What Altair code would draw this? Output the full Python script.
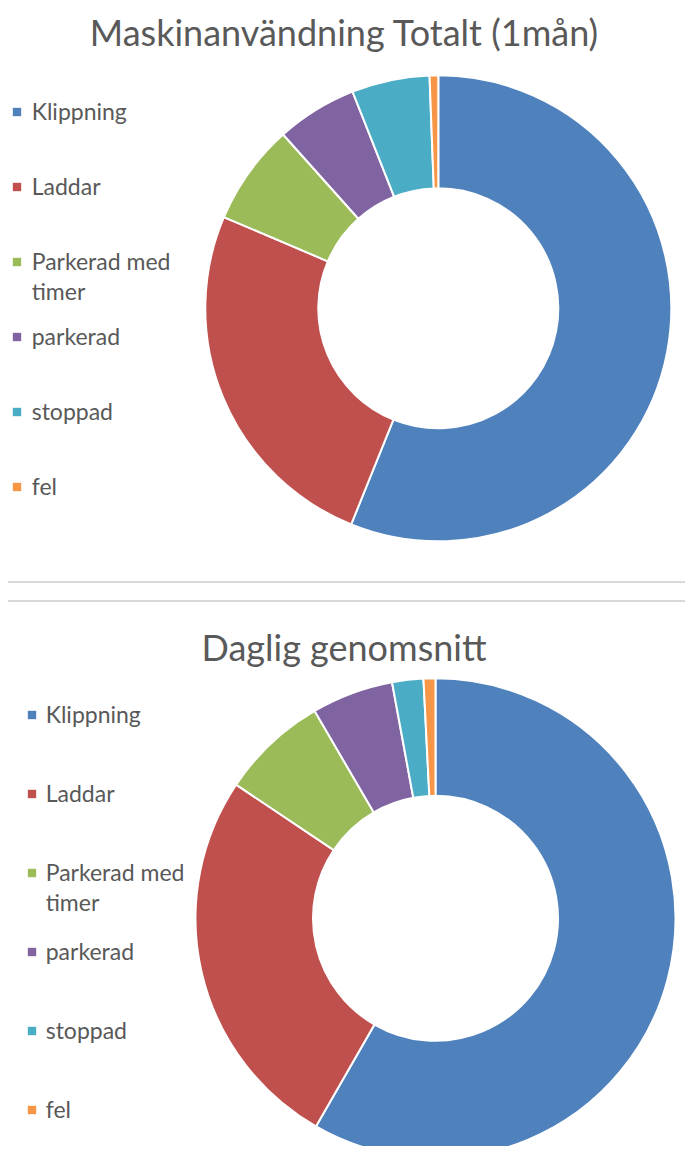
import altair as alt
import pandas as pd

categories = ["Klippning", "Laddar", "Parkerad med timer", "parkerad", "stoppad", "fel"]
legend_labels = ["Klippning", "Laddar", "Parkerad med\ntimer", "parkerad", "stoppad", "fel"]
colors = ["#4F81BD", "#C0504D", "#9BBB59", "#8064A2", "#4BACC6", "#F79646"]
total_values = [56.1, 25.3, 7.0, 5.6, 5.4, 0.6]
daily_values = [58.3, 26.1, 7.2, 5.5, 2.1, 0.8]
title_top = ["Maskinanvändning Totalt (1mån)"]
title_bottom = ["Daglig genomsnitt"]

FONT = "Lato"
GREY = "#595959"

df_top = pd.DataFrame({"cat": categories, "value": total_values, "idx": range(len(categories))})
df_bot = pd.DataFrame({"cat": categories, "value": daily_values, "idx": range(len(categories))})
df_leg = pd.DataFrame({"cat": categories, "label": legend_labels})

color = alt.Color("cat:N", scale=alt.Scale(domain=categories, range=colors), legend=None)


def donut(df, cx, cy, r_out, r_in):
    return alt.Chart(df).mark_arc(radius=r_out, radius2=r_in, stroke="white", strokeWidth=2).encode(
        theta=alt.Theta("value:Q", stack=True),
        color=color,
        order=alt.Order("idx:Q"),
        x=alt.value(cx),
        y=alt.value(cy),
    )


def legend(x_sq, x_txt, y0, y1):
    yenc = alt.Y("cat:N", scale=alt.Scale(type="point", domain=categories, range=[y0, y1], padding=0), axis=None)
    sq = alt.Chart(df_leg).mark_square(size=70, opacity=1).encode(x=alt.value(x_sq), y=yenc, color=color)
    txt = alt.Chart(df_leg).mark_text(
        align="left", baseline="alphabetic", dy=8, lineBreak="\n", lineHeight=30,
        fontSize=23, font=FONT, color=GREY,
    ).encode(x=alt.value(x_txt), y=yenc, text="label:N")
    return [sq, txt]


def title(text_list, x, y, size):
    return alt.Chart(pd.DataFrame({"t": text_list})).mark_text(
        align="center", baseline="middle", fontSize=size, font=FONT, color=GREY
    ).encode(x=alt.value(x), y=alt.value(y), text="t:N")


dummy = pd.DataFrame({"a": [0]})
rule1 = alt.Chart(dummy).mark_rule(color="#d9d9d9", strokeWidth=2).encode(
    x=alt.value(0), x2=alt.value(677), y=alt.value(574))
rule2 = alt.Chart(dummy).mark_rule(color="#d9d9d9", strokeWidth=2).encode(
    x=alt.value(0), x2=alt.value(677), y=alt.value(593))

layers = [
    donut(df_top, 430.3, 300.3, 233, 120),
    donut(df_bot, 427.5, 910.3, 240, 122.5),
    *legend(9, 23.7, 104, 479),
    *legend(24, 37.7, 707, 1102),
    title(title_top, 336, 27, 36),
    title(title_bottom, 336, 642, 36),
    rule1,
    rule2,
]

chart = alt.layer(*layers).properties(
    width=677, height=1138, padding=0,
    autosize=alt.AutoSizeParams(type="none"),
    background="white",
).resolve_scale(y="independent", theta="independent").configure_view(stroke=None)

chart.save("out.html", embed_options={"renderer": "svg", "actions": False})
